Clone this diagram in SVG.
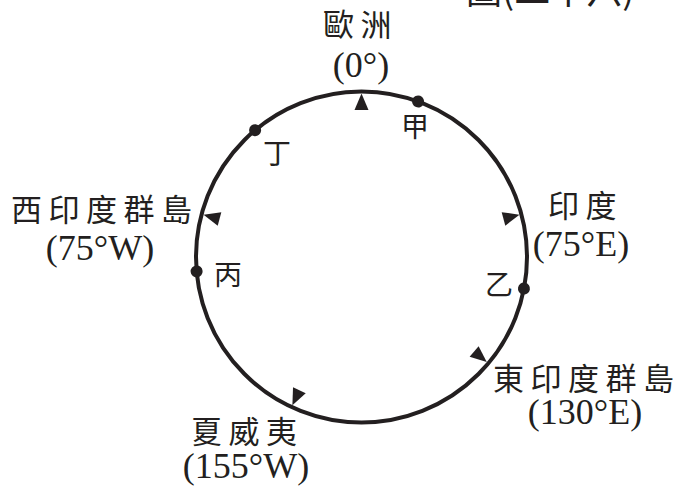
<svg xmlns="http://www.w3.org/2000/svg" xmlns:xlink="http://www.w3.org/1999/xlink" width="679" height="486" viewBox="0 0 679 486">
  <style>
    .cjk { font-family: "Noto Sans CJK TC", "Noto Sans CJK SC", sans-serif; font-size: 31px; letter-spacing: 6.5px; fill: #231f20; }
    .num { font-family: "Liberation Serif", "Times New Roman", serif; font-size: 36px; text-anchor: middle; fill: #231f20; }
    .pt { font-family: "Noto Sans CJK TC", "Noto Sans CJK SC", sans-serif; font-size: 28px; text-anchor: middle; fill: #231f20; }
    .ring { fill: none; stroke: #231f20; stroke-width: 4; }
    .mark { fill: #231f20; }
  </style>
  <defs>
    <path id="tick" d="M361.5,93.5 L354.5,110 L368.5,110 Z"/>
    <circle id="dot" cx="361.5" cy="91.5" r="6"/>
  </defs>
  <rect width="679" height="486" fill="#ffffff"/>

  <text x="466" y="4" font-family="Noto Sans CJK TC, sans-serif" font-size="36" fill="#231f20">圖(二十六)</text>

  <g id="connectors">
    <circle class="ring" cx="361.5" cy="257" r="165.5"/>
  </g>

  <g id="europe">
    <use xlink:href="#tick" class="mark"/>
    <text class="cjk" x="323" y="36">歐洲</text>
    <text class="num" x="361" y="77">(0°)</text>
  </g>
  <g id="india">
    <use xlink:href="#tick" class="mark" transform="rotate(75 361.5 257)"/>
    <text class="cjk" x="548" y="217">印度</text>
    <text class="num" x="581" y="256">(75°E)</text>
  </g>
  <g id="east-indies">
    <use xlink:href="#tick" class="mark" transform="rotate(130 361.5 257)"/>
    <text class="cjk" x="493" y="390">東印度群島</text>
    <text class="num" x="585" y="424">(130°E)</text>
  </g>
  <g id="hawaii">
    <use xlink:href="#tick" class="mark" transform="rotate(205 361.5 257)"/>
    <text class="cjk" x="191" y="443">夏威夷</text>
    <text class="num" x="246" y="478">(155°W)</text>
  </g>
  <g id="west-indies">
    <use xlink:href="#tick" class="mark" transform="rotate(285 361.5 257)"/>
    <text class="cjk" x="11" y="221">西印度群島</text>
    <text class="num" x="100" y="260">(75°W)</text>
  </g>

  <g id="jia">
    <use xlink:href="#dot" class="mark" transform="rotate(20 361.5 257)"/>
    <text class="pt" x="415" y="137">甲</text>
  </g>
  <g id="yi">
    <use xlink:href="#dot" class="mark" transform="rotate(101 361.5 257)"/>
    <text class="pt" x="499" y="295">乙</text>
  </g>
  <g id="bing">
    <use xlink:href="#dot" class="mark" transform="rotate(265 361.5 257)"/>
    <text class="pt" x="228" y="285">丙</text>
  </g>
  <g id="ding">
    <use xlink:href="#dot" class="mark" transform="rotate(320 361.5 257)"/>
    <text class="pt" x="277" y="164">丁</text>
  </g>
</svg>
